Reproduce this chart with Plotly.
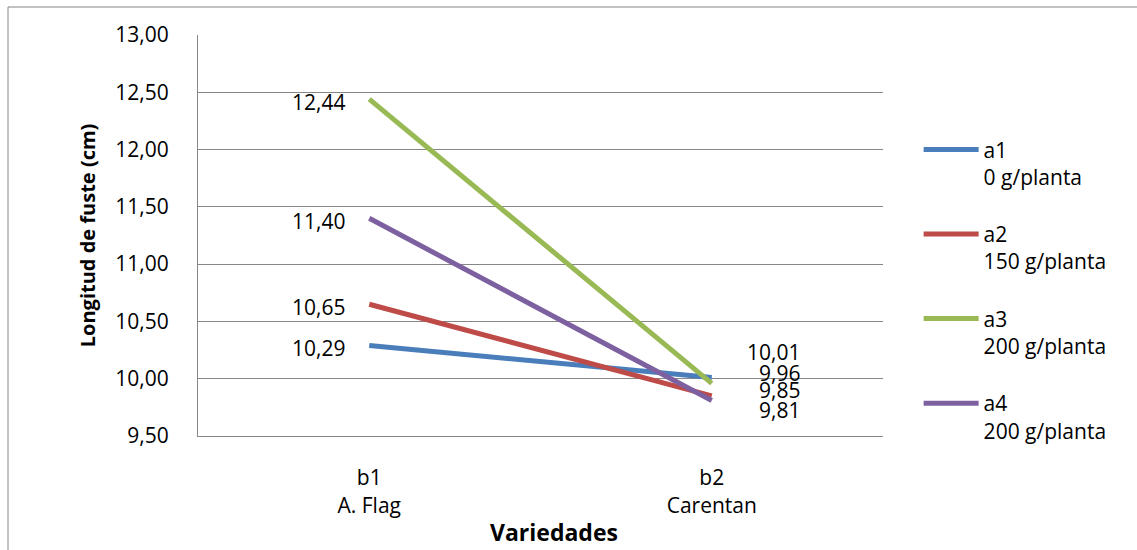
import plotly.graph_objects as go

# Categories (variedades) and series (dosis)
categorias = ["b1<br>A. Flag", "b2<br>Carentan"]
series = ["a1", "a2", "a3", "a4"]
dosis = ["0 g/planta", "150 g/planta", "200 g/planta", "200 g/planta"]
a1 = [10.29, 10.01]
a2 = [10.65, 9.85]
a3 = [12.44, 9.96]
a4 = [11.40, 9.81]
valores = [a1, a2, a3, a4]
colores = ["#4A7EBB", "#BE4B48", "#98B954", "#7D60A0"]

# vertical nudges for the value labels at b2 so they stack legibly
desplaz_b2 = [26, 6, 10, -10]

FONT = "Open Sans"
FS = 21
fig = go.Figure()

for nombre, d, vals, col in zip(series, dosis, valores, colores):
    fig.add_trace(go.Scatter(
        x=[0, 1], y=vals, mode="lines",
        name=f"{nombre}<br>{d}", legendgroup=nombre,
        line=dict(color=col, width=5),
        hoverinfo="skip",
    ))

annotations = []
for vals, dy in zip(valores, desplaz_b2):
    annotations.append(dict(
        x=0, y=vals[0], xref="x", yref="y",
        text=f"{vals[0]:.2f}".replace(".", ","),
        showarrow=False, xanchor="right", yanchor="middle",
        xshift=-22, yshift=-3,
        font=dict(family=FONT, size=FS, color="#000000"),
    ))
    annotations.append(dict(
        x=1, y=vals[1], xref="x", yref="y",
        text=f"{vals[1]:.2f}".replace(".", ","),
        showarrow=False, xanchor="right", yanchor="middle",
        xshift=90, yshift=dy,
        font=dict(family=FONT, size=FS, color="#000000"),
    ))

annotations.append(dict(
    x=-0.161, y=0.5, xref="paper", yref="paper",
    text="<b>Longitud de fuste (cm)</b>", textangle=-90,
    showarrow=False, xanchor="center", yanchor="middle",
    font=dict(family=FONT, size=20, color="#000000"),
))
annotations.append(dict(
    x=0.519, y=-0.24, xref="paper", yref="paper",
    text="<b>Variedades</b>",
    showarrow=False, xanchor="center", yanchor="middle",
    font=dict(family=FONT, size=23, color="#000000"),
))

fig.update_layout(
    width=1137, height=550,
    margin=dict(l=198, r=254, t=35, b=114),
    paper_bgcolor="white", plot_bgcolor="white",
    separators=",.",
    showlegend=True,
    legend=dict(
        x=1.052, y=0.765, xanchor="left", yanchor="top",
        font=dict(family=FONT, size=FS, color="#000000"),
        tracegroupgap=27, itemwidth=55, valign="top",
        bgcolor="rgba(0,0,0,0)",
    ),
    xaxis=dict(
        range=[-0.5, 1.5], tickmode="array", tickvals=[0, 1],
        ticktext=categorias, showgrid=False, zeroline=False,
        showline=True, linecolor="#868686", linewidth=1,
        ticks="", tickfont=dict(family=FONT, size=FS, color="#000000"),
        ticklabelstandoff=23,
    ),
    yaxis=dict(
        range=[9.5, 13.0], dtick=0.5, tickformat=".2f",
        showgrid=True, gridcolor="#868686", gridwidth=1, zeroline=False,
        showline=True, linecolor="#868686", linewidth=1,
        ticks="", tickfont=dict(family=FONT, size=FS, color="#000000"),
        ticklabelstandoff=24,
    ),
    annotations=annotations,
    shapes=[dict(
        type="rect", xref="paper", yref="paper",
        x0=(8 - 198) / 685, x1=(1160 - 198) / 685,
        y0=(436 - 580) / 401, y1=(436 - 7) / 401,
        line=dict(color="#868686", width=1), layer="below",
    )],
)

fig.write_html("out.html")
